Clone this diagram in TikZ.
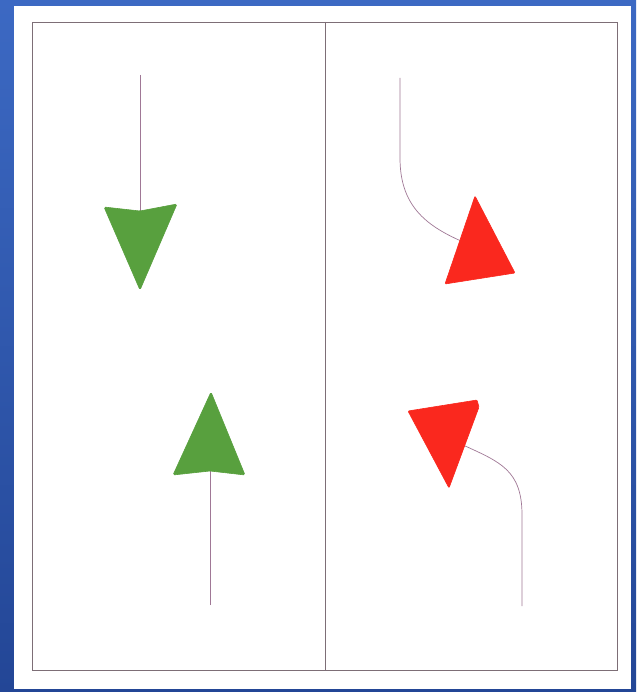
\documentclass[tikz,border=0pt]{standalone}
\definecolor{bgblue}{RGB}{60,105,195}
\definecolor{bgdark}{RGB}{35,70,150}
\definecolor{framecol}{RGB}{125,110,118}
\definecolor{linecol}{RGB}{160,120,150}
\definecolor{headgreen}{RGB}{88,160,62}
\definecolor{headred}{RGB}{250,40,30}
\tikzset{
  frameline/.style={draw=framecol, line width=0.9pt},
  stem/.style={draw=linecol, line width=0.7pt},
  greenhead/.style={fill=headgreen, draw=headgreen, line width=0.6pt, rounded corners=1.5pt},
  redhead/.style={fill=headred, draw=headred, line width=0.6pt, rounded corners=1pt},
}
\begin{document}
\begin{tikzpicture}[x=1pt,y=-1pt]
\useasboundingbox (0,0) rectangle (636,692);
% background
\shade[top color=bgblue, bottom color=bgdark] (0,0) rectangle (636,692);
\fill[white] (14,6) rectangle (631,689);
% frame and divider
\coordinate (fTL) at (32,22);
\coordinate (fBR) at (617,670);
\coordinate (dT) at (325,22);
\coordinate (dB) at (325,670);
\draw[frameline] (fTL) rectangle (fBR);
\draw[frameline, line width=0.8pt] (dT) -- (dB);

% green down arrow
\coordinate (g1s) at (140,75);
\coordinate (g1e) at (140,211);
\draw[stem] (g1s) -- (g1e);
\filldraw[greenhead] (104,207) -- (140,211) -- (177,204) -- (140,290) -- cycle;

% green up arrow
\coordinate (g2s) at (210,605);
\coordinate (g2e) at (210,471);
\draw[stem] (g2s) -- (g2e);
\filldraw[greenhead] (211,392) -- (245,475) -- (210,471) -- (173,475) -- cycle;

% red top arrow
\coordinate (r1s) at (400,78);
\coordinate (r1m) at (400,158);
\coordinate (r1e) at (461,241);
\draw[stem] (r1s) -- (r1m) .. controls (400,205) and (425,225) .. (r1e);
\filldraw[redhead] (475,196) -- (515,273) -- (445,284) -- cycle;

% red bottom arrow
\coordinate (r2s) at (522,606);
\coordinate (r2m) at (522,515);
\coordinate (r2e) at (463,445);
\draw[stem] (r2s) -- (r2m) .. controls (522,470) and (500,462) .. (r2e);
\filldraw[redhead] (408,411) -- (477,400) -- (479,407) -- (449,488) -- cycle;
\end{tikzpicture}
\end{document}
